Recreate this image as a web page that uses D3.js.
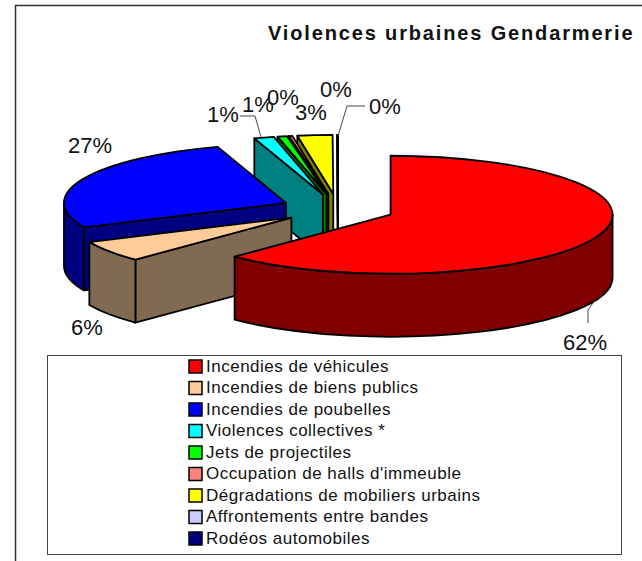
<!DOCTYPE html>
<html>
<head>
<meta charset="utf-8">
<script src="https://cdnjs.cloudflare.com/ajax/libs/d3/7.8.5/d3.min.js"></script>
<style>
  html, body { margin: 0; padding: 0; background: #fff; }
  text { font-family: "Liberation Sans", Arial, sans-serif; fill: #111; }
</style>
</head>
<body>
<div id="chart"></div>
<script>
// Chart data
const categories = ["Incendies de véhicules", "Incendies de biens publics", "Incendies de poubelles",
  "Violences collectives *", "Jets de projectiles", "Occupation de halls d'immeuble",
  "Dégradations de mobiliers urbains", "Affrontements entre bandes", "Rodéos automobiles"];
const shares = [62.4, 5.8, 26.8, 1.45, 0.7, 0.26, 2.54, 0.03, 0.02];
const topColors = ["#ff0000", "#ffcc99", "#0000ff", "#00ffff", "#00ff00", "#ff8080", "#ffff00", "#ccccff", "#000080"];
const sideColors = ["#800000", "#806a52", "#000080", "#008080", "#008000", "#804040", "#808000", "#666680", "#000040"];

const W = 642, H = 561;

// Pie geometry (tilted ellipse, each slice pulled out from the centre)
const cx = 338, cy = 209, rx = 222, ry = 59, depth = 63, explode = 0.256;

// Label anchor points, same order as the categories
const labelAt = [[585, 342], [87, 327], [90, 145], [223, 114], [258, 104], [283, 97], [311, 112], [385, 106], [336, 89]];

const svg = d3.select("#chart").append("svg")
  .attr("width", W)
  .attr("height", H)
  .style("display", "block");

// Open frame, top and left only
svg.append("path")
  .attr("d", `M15.5,${H} V5.5 H${W}`)
  .attr("fill", "none")
  .attr("stroke", "#333")
  .attr("stroke-width", 1.5);

svg.append("text")
  .attr("x", 268)
  .attr("y", 40)
  .style("font-size", "20px")
  .style("font-weight", "bold")
  .style("letter-spacing", "1.85px")
  .text("Violences urbaines Gendarmerie");

const pie = d3.pie().sort(null).value(d => d).startAngle(0).endAngle(2 * Math.PI);
const arcs = pie(shares);

function slicePaths(d) {
  const mid = (d.startAngle + d.endAngle) / 2;
  const ox = cx + explode * rx * Math.sin(mid);
  const oy = cy - explode * ry * Math.cos(mid);
  const at = (a, dz = 0) => [ox + rx * Math.sin(a), oy - ry * Math.cos(a) + dz];
  const big = d.endAngle - d.startAngle > Math.PI ? 1 : 0;
  const [sx, sy] = at(d.startAngle);
  const [ex, ey] = at(d.endAngle);

  const top = `M${ox},${oy} L${sx},${sy} A${rx},${ry} 0 ${big} 1 ${ex},${ey} Z`;
  const walls = [];

  // start edge faces the viewer on the left half of the pie
  if (Math.sin(d.startAngle) < 0) {
    walls.push(`M${ox},${oy} L${sx},${sy} V${sy + depth} L${ox},${oy + depth} Z`);
  }
  // end edge faces the viewer on the right half
  if (Math.sin(d.endAngle) > 0) {
    walls.push(`M${ox},${oy} L${ex},${ey} V${ey + depth} L${ox},${oy + depth} Z`);
  }
  // outer rim, only the front part between 90 and 270 degrees
  const a0 = Math.max(d.startAngle, Math.PI / 2);
  const a1 = Math.min(d.endAngle, 3 * Math.PI / 2);
  if (a0 < a1) {
    const [p0x, p0y] = at(a0);
    const [p1x, p1y] = at(a1);
    walls.push(`M${p0x},${p0y} A${rx},${ry} 0 0 1 ${p1x},${p1y} V${p1y + depth} A${rx},${ry} 0 0 0 ${p0x},${p0y + depth} Z`);
  }
  return { top, walls };
}

// Painter's order: last category first, red slice on top of everything
const slices = svg.selectAll("g.slice")
  .data(arcs.slice().reverse())
  .enter().append("g")
    .attr("class", "slice")
    .attr("stroke", "#000")
    .attr("stroke-width", 1.8)
    .attr("stroke-linejoin", "round");

slices.each(function(d) {
  const g = d3.select(this);
  const p = slicePaths(d);
  p.walls.forEach(w => {
    g.append("path").attr("d", w).attr("fill", sideColors[d.index]);
  });
  g.append("path").attr("d", p.top).attr("fill", topColors[d.index]);
});

// Leader lines
const leaders = [
  [[595, 300], [588, 310], [588, 323]],
  [[240, 116], [255, 116], [261, 137]],
  [[365, 106], [347, 106], [338, 136]]
];
svg.selectAll("path.leader")
  .data(leaders)
  .enter().append("path")
    .attr("class", "leader")
    .attr("d", d3.line())
    .attr("fill", "none")
    .attr("stroke", "#444")
    .attr("stroke-width", 1);

// Percent labels
svg.selectAll("text.pct")
  .data(arcs)
  .enter().append("text")
    .attr("class", "pct")
    .attr("x", d => labelAt[d.index][0])
    .attr("y", d => labelAt[d.index][1])
    .attr("text-anchor", "middle")
    .attr("dominant-baseline", "central")
    .style("font-size", "22px")
    .text(d => Math.round(d.data) + "%");

// Legend
svg.append("rect")
  .attr("x", 47.5)
  .attr("y", 355.5)
  .attr("width", 574)
  .attr("height", 199)
  .attr("fill", "#fff")
  .attr("stroke", "#444")
  .attr("stroke-width", 1);

const legendY = d3.scalePoint().domain(categories).range([366, 538]);

const legendRows = svg.selectAll("g.legend-row")
  .data(categories)
  .enter().append("g")
    .attr("class", "legend-row")
    .attr("transform", d => `translate(189, ${legendY(d)})`);

legendRows.append("rect")
  .attr("x", 0)
  .attr("y", -6)
  .attr("width", 13)
  .attr("height", 13)
  .attr("fill", (d, i) => topColors[i])
  .attr("stroke", "#000")
  .attr("stroke-width", 1.5);

legendRows.append("text")
  .attr("x", 17)
  .attr("y", 0)
  .attr("dominant-baseline", "central")
  .style("font-size", "17px")
  .style("letter-spacing", "0.5px")
  .text(d => d);
</script>
</body>
</html>
